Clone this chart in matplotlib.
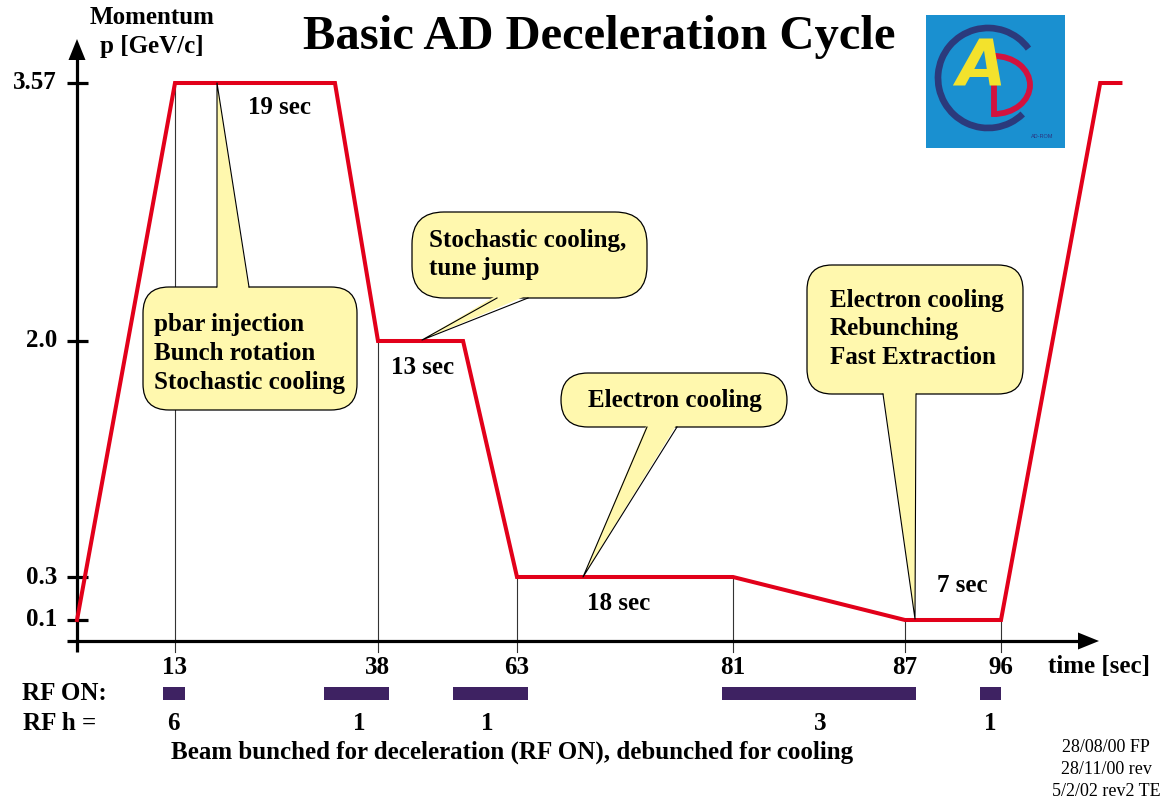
import numpy as np
import matplotlib
matplotlib.use("Agg")
import matplotlib.pyplot as plt
from matplotlib import transforms as mtransforms
from matplotlib import patches as mpatches

# ---------------- data ----------------
times = [0, 13, 32.7, 38, 53.3, 63, 81, 87, 96, 105.3, 107.2]          # s
momentum = [0.1, 3.57, 3.57, 2.0, 2.0, 0.3, 0.3, 0.1, 0.1, 3.57, 3.57]  # GeV/c
tick_times = [13, 38, 63, 81, 87, 96]
tick_labels_x = ["13", "38", "63", "81", "87", "96"]
p_levels = [3.57, 2.0, 0.3, 0.1]
p_labels = ["3.57", "2.0", "0.3", "0.1"]
rf_start = [11.4, 31.3, 51.5, 80.1, 94.0]
rf_end = [14.2, 40.0, 63.9, 88.0, 96.0]
rf_h = ["6", "1", "1", "3", "1"]
durations = ["19 sec", "13 sec", "18 sec", "7 sec"]

# schematic (non-linear) axis definition: value knots -> figure pixel
T_KNOTS = np.array([-11, 0, 13, 38, 63, 81, 87, 96, 113])
X_PIX = np.array([-5.9, 77, 175, 378, 517, 733, 905, 1001, 1182.3])
P_KNOTS = np.array([-0.8, 0, 0.1, 0.3, 2.0, 3.57, 4.2])
Y_PIX_TOP = np.array([800, 640, 620, 577, 341, 83, -20.5])

W, H = 1162, 799
Y_H = H - Y_PIX_TOP

fig = plt.figure(figsize=(W / 100, H / 100), dpi=100)
ax = fig.add_axes([0, 0, 1, 1])
ax.set_axis_off()

fx = lambda t: np.interp(t, T_KNOTS, X_PIX)
ix = lambda p: np.interp(p, X_PIX, T_KNOTS)
fy = lambda v: np.interp(v, P_KNOTS, Y_H)
iy = lambda p: np.interp(p, Y_H, P_KNOTS)
ax.set_xscale("function", functions=(fx, ix))
ax.set_yscale("function", functions=(fy, iy))
ax.set_xlim(ix(0), ix(W))
ax.set_ylim(iy(0), iy(H))

P = mtransforms.Affine2D().scale(1 / W, -1 / H).translate(0, 1) + fig.transFigure
BX = mtransforms.blended_transform_factory(ax.transData, P)
BY = mtransforms.blended_transform_factory(P, ax.transData)

SERIF = "Liberation Serif"
FS = 18
def T(x, y, s, size=FS, ha="center", va="center", tr=P, weight="bold", **kw):
    ax.text(x, y, s, fontsize=size, ha=ha, va=va, transform=tr,
            family=SERIF, fontweight=weight, **kw)

RED = "#e2001a"
YEL = "#fff8ae"
PURP = "#3e2262"

# ---------------- axes arrows ----------------
ax.plot([77, 77], [652, 56], color="black", lw=2.3, transform=P, solid_capstyle="butt", zorder=4)
ax.add_patch(mpatches.Polygon([(77, 39), (68.5, 60), (85.5, 60)], closed=True,
                              fc="black", ec="none", transform=P, zorder=4))
ax.plot([67, 1082], [641, 641], color="black", lw=2.3, transform=P, solid_capstyle="butt", zorder=4)
ax.add_patch(mpatches.Polygon([(1099, 641), (1078, 632.5), (1078, 649.5)], closed=True,
                              fc="black", ec="none", transform=P, zorder=4))
# y ticks
for v, lab in zip(p_levels, p_labels):
    ax.plot([67, 88], [v, v], color="black", lw=2.3, transform=BY, solid_capstyle="butt", zorder=4)
    T(57, v, lab, ha="right", tr=BY)

# thin vertical markers
bottom = iy(H - 652)
for t, lab in zip(tick_times, tick_labels_x):
    top = np.interp(t, times, momentum)
    ax.plot([t, t], [top, bottom], color="#333333", lw=0.8, zorder=1)
    T(t, 667, lab, tr=BX)
T(1099, 666, "time [sec]")

# ---------------- momentum curve ----------------
ax.plot(times, momentum, color=RED, lw=2.9, solid_joinstyle="miter", zorder=5)

# ---------------- callouts ----------------
def callout(x0, y0, x1, y1, rad, tip, xa, xb, side):
    box = mpatches.FancyBboxPatch((x0, y0), x1 - x0, y1 - y0,
                                  boxstyle=f"round,pad=0,rounding_size={rad}",
                                  fc=YEL, ec="black", lw=0.9, transform=P, zorder=6)
    ax.add_patch(box)
    yb = y1 if side == "bottom" else y0
    yin = yb - 3 if side == "bottom" else yb + 3
    ax.add_patch(mpatches.Polygon([(xa, yin), tip, (xb, yin)], closed=True,
                                  fc=YEL, ec="none", transform=P, zorder=7))
    ax.plot([xa, tip[0], xb], [yb, tip[1], yb], color="black", lw=0.8,
            transform=P, zorder=7)

callout(143, 287, 357, 410, 26, (217, 83), 217, 249, "top")
callout(412, 212, 647, 298, 32, (422, 340), 497, 528, "bottom")
callout(561, 373, 787, 427, 27, (583, 577), 647, 677, "bottom")
callout(807, 265, 1023, 394, 25, (915, 619), 883, 916, "bottom")

for i, s in enumerate(["pbar injection", "Bunch rotation", "Stochastic cooling"]):
    T(154, 325 + 28.5 * i, s, ha="left", zorder=8)
for i, s in enumerate(["Stochastic cooling,", "tune jump"]):
    T(429, 240 + 28 * i, s, ha="left", zorder=8)
T(675, 400, "Electron cooling", zorder=8)
for i, s in enumerate(["Electron cooling", "Rebunching", "Fast Extraction"]):
    T(830, 300 + 29 * i, s, ha="left", zorder=8)

# durations
for (x, y), s in zip([(280, 108), (423, 367), (619, 603), (962, 585)], durations):
    T(x, y, s)

# ---------------- RF ----------------
for s, e, h in zip(rf_start, rf_end, rf_h):
    ax.add_patch(mpatches.Rectangle((s, 687), e - s, 13, fc=PURP, ec="none",
                                    transform=BX, zorder=4))
    T((s + e) / 2, 723, h, tr=BX)
T(22, 694, "RF ON:", ha="left")
T(23, 723, "RF h =", ha="left")
T(512, 752, "Beam bunched for deceleration (RF ON), debunched for cooling")

# ---------------- titles ----------------
T(599, 37, "Basic AD Deceleration Cycle", size=35)
T(152, 18, "Momentum")
T(152, 47, "p [GeV/c]")
for i, s in enumerate(["28/08/00 FP", "28/11/00 rev", "5/2/02 rev2 TE"]):
    T(1106, 748 + 21.5 * i, s, size=13, weight="normal")

# ---------------- logo ----------------
ax.add_patch(mpatches.Rectangle((926, 15), 139, 133, fc="#1a90d0", ec="none", transform=P, zorder=2))
ax.add_patch(mpatches.Arc((988, 78), 100, 100, theta1=46, theta2=324, color="#2b3a7c",
                          lw=4.8, transform=P, zorder=3))
# stylised red "D"
ax.add_patch(mpatches.Arc((994, 85), 72, 58, theta1=-90, theta2=90, color="#d3123e",
                          lw=4.2, transform=P, zorder=3))
ax.plot([994, 994], [56, 114], color="#d3123e", lw=4.2, transform=P, zorder=3)
ax.text(981, 68, "A", fontsize=46, ha="center", va="center", transform=P, family="DejaVu Sans",
        fontweight="bold", style="italic", color="#f3e22c", zorder=4)
ax.text(1042, 137, "AD-ROM", fontsize=4, ha="center", va="center", transform=P,
        family="Liberation Sans", color="#2b3580", zorder=4)

fig.savefig("out.png", dpi=100)
